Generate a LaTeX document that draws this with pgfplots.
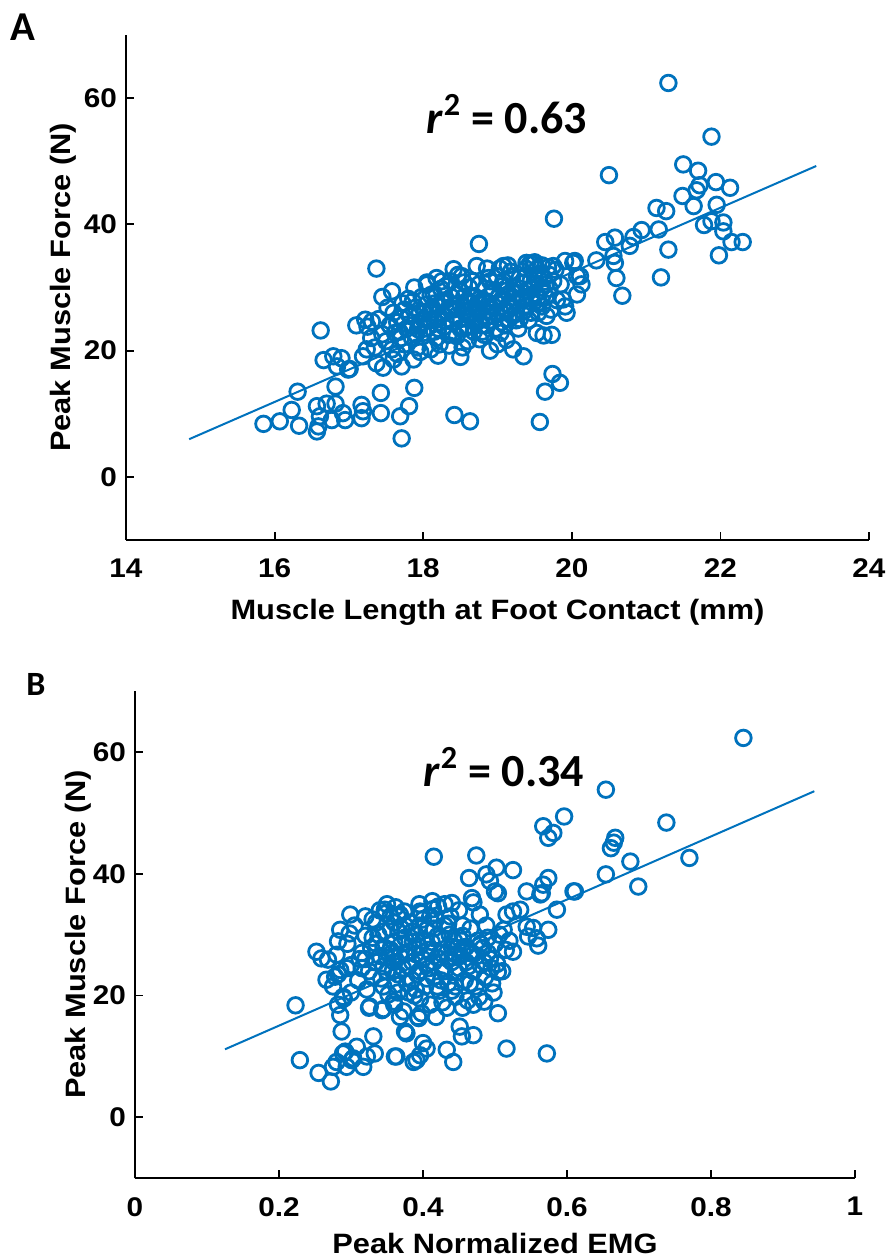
\documentclass[border=0pt]{standalone}
\usepackage{fontspec}
\setmainfont{Liberation Sans}[FakeStretch=1.1]
\newfontfamily\calfont{Carlito}
\usepackage{pgfplots}
\pgfplotsset{compat=1.18}
\definecolor{mblue}{rgb}{0,0.447,0.741}
\pgfplotsset{
  myax/.style={
    scale only axis, anchor=south west,
    axis x line*=bottom, axis y line*=left,
    axis line style={-, line width=0.9pt, black},
    tick style={line width=0.9pt, black},
    major tick length=4.2pt, tick align=inside,
    /pgf/number format/assume math mode=true,
    ticklabel style={font=\bfseries\fontsize{13.5}{15}\selectfont},
    label style={font=\bfseries\fontsize{14}{16}\selectfont},
    xticklabel style={yshift=-6pt},
    yticklabel style={xshift=-1pt},
    clip=false,
  },
  pts/.style={only marks, mark=o, mark size=3.9pt, mblue, mark options={line width=1.4pt}},
  fit/.style={no marks, mblue, line width=1pt},
}
\begin{document}
\begin{tikzpicture}
\path[use as bounding box] (0,0) rectangle (444.5pt,630pt);
% ---------- Panel A ----------
\begin{axis}[myax, at={(63pt,360pt)}, width=371.5pt, height=252.5pt,
  xmin=14, xmax=24, ymin=-10, ymax=70,
  xtick={14,16,18,20,22,24}, ytick={0,20,40,60},
  xlabel={Muscle Length at Foot Contact (mm)},
  ylabel={Peak Muscle Force (N)},
  xlabel style={at={(axis description cs:0.5,-0.1426)}, anchor=center},
  ylabel style={at={(axis description cs:-0.0848,0.5)}, anchor=center},
]
\addplot[pts] table {
16.62 23.2
17.58 29.4
17.37 33.0
17.10 24.0
17.22 24.9
17.31 24.6
16.66 18.5
16.79 19.1
16.90 18.8
16.84 17.5
17.01 17.1
16.31 13.5
16.82 14.3
15.85 8.4
16.07 8.8
16.23 10.6
16.33 8.1
16.57 11.2
16.70 11.6
16.82 11.6
16.61 9.6
16.59 8.0
16.57 7.2
16.77 9.0
16.92 10.1
16.95 9.0
17.17 11.4
17.19 10.4
17.17 9.3
17.43 13.3
17.43 10.1
17.81 11.2
17.69 9.6
17.71 6.1
17.88 14.1
18.41 32.9
18.72 33.4
18.75 36.9
18.42 9.8
18.63 8.8
19.57 8.7
19.64 13.5
19.74 16.3
19.84 14.9
19.21 20.2
19.35 19.1
19.53 22.8
19.62 22.4
19.73 22.5
19.91 34.2
20.04 34.2
19.93 26.0
19.91 27.0
20.07 28.9
20.13 30.5
20.11 31.8
21.30 62.4
21.88 53.9
20.50 47.8
21.50 49.5
21.70 48.5
21.72 46.2
21.68 45.4
21.94 46.7
22.13 45.8
21.95 43.1
21.64 42.9
21.49 44.5
21.14 42.6
21.27 42.1
21.78 39.9
21.88 40.5
22.04 40.3
22.04 38.9
22.15 37.2
22.30 37.2
21.98 35.1
21.30 36.0
21.20 31.6
21.17 39.2
20.94 39.1
20.83 38.0
20.78 36.6
20.58 37.9
20.45 37.2
20.56 35.0
20.58 33.9
20.60 31.5
20.68 28.7
20.33 34.3
19.76 40.9
18.05 30.8
19.03 33.0
19.08 33.4
18.99 31.8
19.39 33.9
19.48 33.7
19.53 32.9
19.75 33.4
20.02 33.9
20.07 31.8
19.88 28.1
19.12 21.7
17.19 19.1
17.24 20.2
17.37 18.0
17.46 17.3
17.60 18.6
17.71 17.5
17.87 18.6
16.99 17.0
17.50 21.5
17.55 24.0
17.60 26.0
17.62 22.8
17.65 19.5
17.70 25.2
17.72 27.5
17.75 21.0
17.78 23.5
17.80 28.2
17.58 20.2
17.68 23.0
17.45 22.6
17.40 25.0
17.52 26.8
17.82 25.5
17.85 22.0
17.88 30.0
17.90 26.8
17.92 20.5
17.95 24.3
17.98 28.5
18.00 22.8
18.02 26.0
18.05 30.5
18.08 24.8
18.10 20.2
17.86 27.8
17.96 19.8
18.04 27.3
17.93 23.4
18.12 26.5
18.14 29.0
18.15 23.0
18.18 31.5
18.20 25.0
18.22 21.0
18.25 27.8
18.28 23.8
18.30 30.2
18.32 26.2
18.35 20.8
18.38 28.5
18.40 24.5
18.18 22.0
18.26 25.8
18.34 22.5
18.37 31.0
18.16 27.5
18.24 29.8
18.42 27.2
18.45 22.3
18.48 29.5
18.50 25.0
18.52 31.8
18.55 23.5
18.58 27.8
18.60 21.5
18.62 30.0
18.65 25.8
18.68 23.0
18.70 28.5
18.44 25.5
18.56 26.3
18.66 31.0
18.53 20.5
18.47 32.0
18.72 26.5
18.75 30.5
18.78 24.0
18.80 28.0
18.82 22.5
18.85 26.2
18.88 31.5
18.90 24.8
18.92 29.0
18.95 27.0
18.98 23.5
18.76 21.8
18.86 33.0
18.94 25.5
18.84 29.8
18.74 27.5
19.02 28.5
19.05 26.0
19.08 31.0
19.10 24.0
19.12 29.5
19.15 27.2
19.18 32.5
19.20 25.5
19.22 30.0
19.25 27.8
19.28 23.5
19.30 31.5
19.04 22.8
19.14 33.5
19.26 29.0
19.06 30.2
19.32 28.0
19.35 26.2
19.38 33.0
19.40 29.5
19.42 24.8
19.45 31.2
19.48 27.5
19.50 34.0
19.52 29.0
19.55 26.0
19.58 32.0
19.60 30.0
19.36 30.8
19.44 33.8
19.46 28.3
19.56 27.6
19.62 31.5
19.65 28.5
19.68 33.2
19.70 29.8
19.72 26.5
19.75 31.0
19.80 28.0
19.85 30.5
19.78 32.8
19.66 25.5
18.20 19.2
18.50 19.0
18.90 20.0
19.00 21.0
17.30 22.0
17.35 20.5
17.25 23.8
17.45 28.5
17.65 24.5
17.75 26.5
17.85 24.0
17.95 26.0
18.05 23.5
18.10 28.8
18.20 27.0
18.30 24.8
18.40 26.5
18.45 29.0
18.50 23.5
18.55 28.5
18.60 25.0
18.65 27.5
18.70 24.5
18.75 26.0
18.80 25.5
18.85 24.0
18.90 27.0
18.95 29.5
19.00 25.8
19.05 28.0
19.10 26.5
19.15 25.0
19.20 28.5
19.25 26.0
19.30 25.0
19.35 28.5
19.40 27.0
19.45 26.0
19.50 30.5
19.55 28.5
19.60 27.0
19.65 30.5
19.70 32.0
18.00 25.0
18.10 26.0
18.20 23.5
18.30 28.0
18.40 22.8
18.55 26.8
18.70 26.8
18.85 27.8
19.00 27.5
19.15 29.0
19.30 29.8
17.90 22.5
18.15 24.8
18.35 26.8
18.60 23.8
18.80 23.0
19.05 24.5
19.25 24.8
19.45 29.8
18.25 31.0
18.55 30.8
18.90 31.0
19.20 31.8
19.60 33.5
17.70 22.0
};
\addplot[fit] coordinates {(14.85,5.97) (23.29,49.25)};
\end{axis}
% ---------- Panel B ----------
\begin{axis}[myax, at={(67.5pt,40.85pt)}, width=360pt, height=243.65pt,
  xmin=0, xmax=1, ymin=-10, ymax=70,
  xtick={0,0.2,0.4,0.6,0.8,1}, ytick={0,20,40,60},
  xlabel={Peak Normalized EMG},
  ylabel={Peak Muscle Force (N)},
  xlabel style={at={(axis description cs:0.5,-0.1328)}, anchor=center},
  ylabel style={at={(axis description cs:-0.0792,0.5)}, anchor=center},
]
\addplot[pts] table {
0.223 18.4
0.229 9.4
0.255 7.3
0.272 5.9
0.280 9.1
0.289 10.5
0.301 9.4
0.308 11.6
0.317 8.3
0.322 10.0
0.331 13.3
0.333 10.5
0.294 8.3
0.292 10.8
0.303 9.7
0.275 8.3
0.363 10.0
0.387 9.1
0.377 13.8
0.287 14.1
0.285 16.8
0.282 18.5
0.289 19.8
0.252 27.2
0.259 26.1
0.268 25.9
0.280 26.7
0.266 22.6
0.278 23.1
0.285 24.2
0.294 24.5
0.275 21.5
0.299 33.3
0.285 30.8
0.282 28.9
0.326 18.2
0.343 17.6
0.368 16.5
0.375 14.1
0.359 19.0
0.415 42.8
0.474 43.0
0.464 39.3
0.488 39.9
0.502 41.0
0.525 40.6
0.493 38.8
0.500 37.1
0.504 36.8
0.468 36.0
0.479 33.3
0.544 37.1
0.563 36.6
0.567 38.2
0.574 39.3
0.609 37.1
0.586 34.1
0.516 33.3
0.525 33.8
0.535 34.1
0.544 31.3
0.553 31.1
0.574 30.8
0.546 29.7
0.558 29.4
0.560 28.2
0.525 27.2
0.504 23.9
0.504 17.1
0.516 11.3
0.572 10.5
0.451 14.9
0.470 13.5
0.454 13.3
0.433 11.1
0.442 9.1
0.400 12.2
0.405 11.3
0.396 10.2
0.391 9.4
0.361 10.0
0.373 17.4
0.394 16.3
0.398 17.1
0.421 34.6
0.440 35.2
0.396 33.8
0.368 33.3
0.347 34.1
0.845 62.3
0.654 53.8
0.596 49.4
0.567 47.8
0.581 46.7
0.574 45.9
0.738 48.4
0.667 45.9
0.665 45.1
0.661 44.2
0.770 42.6
0.688 42.0
0.654 39.9
0.699 37.9
0.611 37.1
0.565 36.8
0.295 28.5
0.300 25.0
0.305 31.5
0.310 22.5
0.315 27.0
0.320 29.8
0.325 24.0
0.330 32.5
0.298 30.2
0.312 26.0
0.322 21.0
0.328 27.8
0.335 25.5
0.338 30.0
0.342 22.8
0.345 28.0
0.348 33.5
0.350 26.2
0.352 20.2
0.355 31.0
0.358 24.0
0.360 28.8
0.362 21.8
0.365 33.0
0.368 26.5
0.340 34.0
0.357 27.0
0.366 30.5
0.345 24.8
0.372 24.5
0.375 29.5
0.378 22.0
0.380 27.2
0.382 32.0
0.385 25.5
0.388 20.0
0.390 30.0
0.392 23.5
0.395 28.0
0.398 33.5
0.400 26.0
0.403 21.5
0.405 30.8
0.408 24.5
0.374 33.8
0.386 28.8
0.396 19.5
0.407 27.5
0.412 28.8
0.415 23.0
0.418 32.5
0.420 26.2
0.423 20.8
0.425 29.5
0.428 24.5
0.430 31.5
0.433 27.0
0.435 22.0
0.438 33.0
0.440 25.5
0.443 29.0
0.445 19.8
0.448 27.8
0.414 34.2
0.427 18.9
0.437 30.0
0.446 23.8
0.452 26.5
0.455 29.8
0.458 22.5
0.460 28.0
0.463 24.8
0.466 31.0
0.470 26.8
0.473 21.5
0.476 29.0
0.480 25.0
0.483 27.8
0.486 23.0
0.490 29.5
0.493 26.0
0.496 22.0
0.500 28.5
0.503 25.2
0.506 30.0
0.462 19.2
0.478 19.8
0.488 31.5
0.498 20.5
0.282 23.5
0.290 19.5
0.300 20.5
0.325 18.0
0.345 17.8
0.360 18.5
0.393 16.5
0.410 18.5
0.418 16.5
0.433 18.0
0.455 18.0
0.470 18.5
0.485 19.0
0.510 24.0
0.515 27.5
0.512 30.8
0.520 29.0
0.320 33.0
0.350 35.0
0.362 34.5
0.395 35.0
0.413 35.5
0.430 35.0
0.450 34.0
0.470 35.3
0.315 24.5
0.320 26.0
0.330 23.0
0.335 28.5
0.340 26.5
0.345 30.5
0.350 24.0
0.355 27.5
0.360 25.5
0.365 23.5
0.370 28.5
0.375 26.8
0.380 24.8
0.385 30.5
0.390 26.8
0.395 24.0
0.400 29.0
0.405 25.0
0.410 27.0
0.415 25.5
0.420 29.8
0.425 27.0
0.430 24.0
0.435 26.0
0.440 28.0
0.445 26.8
0.450 24.5
0.455 27.5
0.460 25.5
0.465 27.0
0.470 24.0
0.475 26.5
0.480 28.5
0.485 25.5
0.490 27.0
0.495 24.5
0.335 32.0
0.355 33.0
0.375 31.5
0.395 31.5
0.415 31.0
0.435 31.8
0.455 31.5
0.345 21.5
0.365 20.5
0.385 22.5
0.405 22.8
0.425 22.5
0.445 21.5
0.465 22.0
0.330 29.5
0.370 31.0
0.410 33.0
0.450 29.5
0.380 20.5
0.420 21.5
0.440 20.8
0.360 32.0
0.390 21.0
0.400 32.5
};
\addplot[fit] coordinates {(0.125,11.18) (0.9435,53.55)};
\end{axis}
% ---------- annotations ----------
\node[font=\calfont\bfseries\fontsize{20.5}{22}\selectfont] at (11.5pt,616.5pt) {A};
\node[font=\calfont\bfseries\fontsize{17}{19}\selectfont] at (18pt,288pt) {B};
\node[font=\calfont\bfseries\fontsize{23}{26}\selectfont] at (253.5pt,573pt) {\textit{r}\textsuperscript{2} = 0.63};
\node[font=\calfont\bfseries\fontsize{23}{26}\selectfont] at (252pt,246.5pt) {\textit{r}\textsuperscript{2} = 0.34};
\end{tikzpicture}
\end{document}
